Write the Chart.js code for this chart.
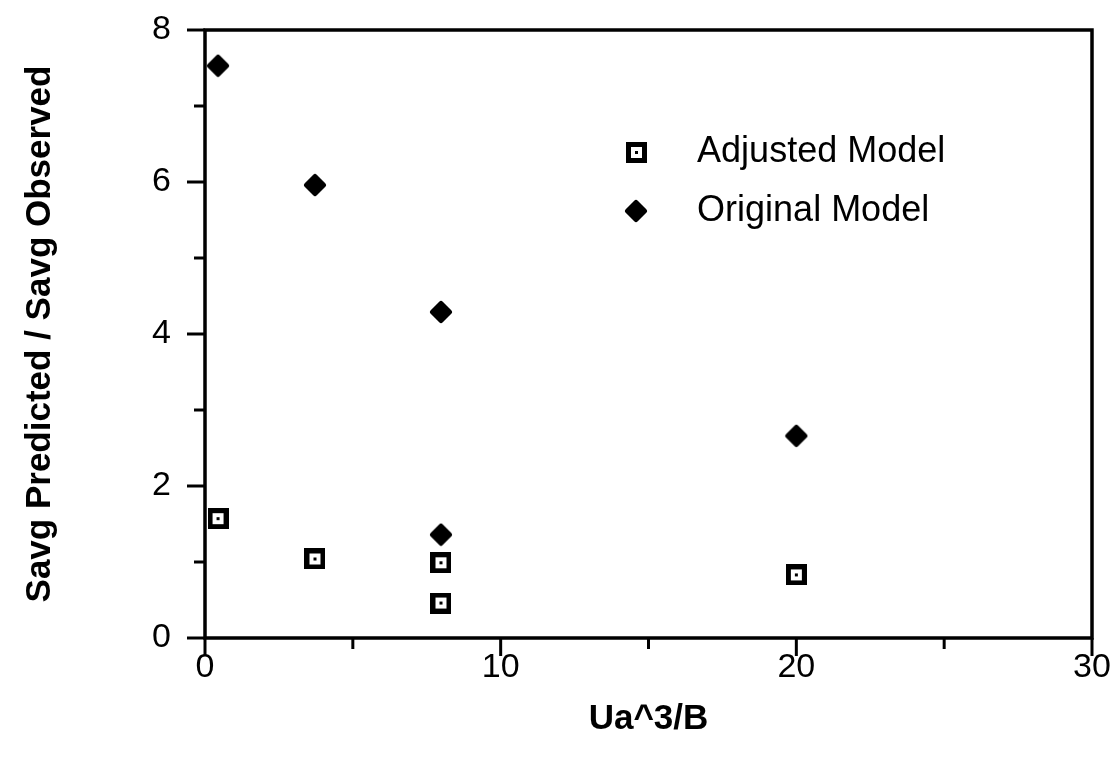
<!DOCTYPE html>
<html>
<head>
<meta charset="utf-8">
<script src="https://cdn.jsdelivr.net/npm/chart.js@4.4.1/dist/chart.umd.min.js"></script>
<style>
  html, body { margin: 0; padding: 0; background: #ffffff; }
  #wrap { width: 1117px; height: 764px; }
</style>
</head>
<body>
<div id="wrap"><canvas id="chart" width="1117" height="764"></canvas></div>
<script>
const adjustedX = [0.44, 3.72, 7.98, 7.98, 20.0];
const adjustedY = [1.57, 1.04, 0.99, 0.46, 0.83];
const originalX = [0.44, 3.72, 7.98, 7.98, 20.0];
const originalY = [7.53, 5.96, 4.29, 1.36, 2.66];
const xTicks = [0, 10, 20, 30];
const yTicks = [0, 2, 4, 6, 8];
const seriesNames = ['Adjusted Model', 'Original Model'];

const FONT = '"Liberation Sans", Arial, Helvetica, sans-serif';

function squareMarker() {
    const c = document.createElement('canvas');
    c.width = 21;
    c.height = 21;
    const ctx = c.getContext('2d');
    ctx.fillStyle = '#000';
    ctx.fillRect(0, 0, 21, 21);
    ctx.fillStyle = '#fff';
    ctx.fillRect(5, 5, 11, 11);
    ctx.fillStyle = '#000';
    ctx.fillRect(9, 9, 3, 3);
    return c;
}

function diamondMarker() {
    const c = document.createElement('canvas');
    c.width = 24;
    c.height = 24;
    const ctx = c.getContext('2d');
    ctx.fillStyle = '#000';
    ctx.strokeStyle = '#000';
    ctx.lineJoin = 'round';
    ctx.lineWidth = 5;
    ctx.beginPath();
    ctx.moveTo(12, 3.5);
    ctx.lineTo(20.5, 12);
    ctx.lineTo(12, 20.5);
    ctx.lineTo(3.5, 12);
    ctx.closePath();
    ctx.fill();
    ctx.stroke();
    return c;
}

const markers = [squareMarker(), diamondMarker()];

function toPoints(xs, ys) {
    return xs.map((x, i) => ({ x, y: ys[i] }));
}

// frame, major and minor tick marks drawn outward like the original plot
const framePlugin = {
    id: 'frame',
    afterDraw(chart) {
        const { ctx, chartArea: area, scales } = chart;
        ctx.save();
        ctx.strokeStyle = '#000';
        ctx.lineWidth = 3.5;
        ctx.lineCap = 'butt';
        ctx.strokeRect(area.left, area.top, area.right - area.left, area.bottom - area.top);

        ctx.lineWidth = 3;
        for (let v = 0; v <= 30; v += 5) {
            const px = scales.x.getPixelForValue(v);
            const len = v % 10 === 0 ? 18 : 11;
            ctx.beginPath();
            ctx.moveTo(px, area.bottom);
            ctx.lineTo(px, area.bottom + len);
            ctx.stroke();
        }
        for (let v = 0; v <= 8; v += 1) {
            const py = scales.y.getPixelForValue(v);
            const len = v % 2 === 0 ? 18 : 11;
            ctx.beginPath();
            ctx.moveTo(area.left, py);
            ctx.lineTo(area.left - len, py);
            ctx.stroke();
        }
        ctx.restore();
    },
};

// legend placed inside the plot area
const insideLegend = {
    id: 'insideLegend',
    afterDraw(chart, args, opts) {
        const { ctx, scales } = chart;
        ctx.save();
        ctx.font = `${opts.fontSize}px ${FONT}`;
        ctx.fillStyle = '#000';
        ctx.textBaseline = 'middle';
        ctx.textAlign = 'left';
        seriesNames.forEach((name, i) => {
            const mx = scales.x.getPixelForValue(opts.markerX);
            const my = scales.y.getPixelForValue(opts.rowsY[i]);
            const img = markers[i];
            ctx.drawImage(img, Math.round(mx - img.width / 2), Math.round(my - img.height / 2));
            ctx.fillText(name, mx + opts.textGap, my);
        });
        ctx.restore();
    },
};

function noLabelPadding(scale) {
    scale.paddingTop = 0;
    scale.paddingBottom = 0;
    scale.paddingLeft = 0;
    scale.paddingRight = 0;
}

new Chart(document.getElementById('chart'), {
    type: 'scatter',
    data: {
        datasets: [
            {
                label: seriesNames[0],
                data: toPoints(adjustedX, adjustedY),
                pointStyle: markers[0],
            },
            {
                label: seriesNames[1],
                data: toPoints(originalX, originalY),
                pointStyle: markers[1],
            },
        ],
    },
    options: {
        responsive: false,
        animation: false,
        layout: {
            autoPadding: false,
            padding: { top: 30, right: 25, bottom: 0, left: 0 },
        },
        plugins: {
            legend: { display: false },
            tooltip: { enabled: false },
            insideLegend: {
                fontSize: 36,
                markerX: 14.58,
                rowsY: [6.39, 5.62],
                textGap: 61,
            },
        },
        scales: {
            x: {
                type: 'linear',
                min: 0,
                max: 30,
                afterBuildTicks(scale) {
                    scale.ticks = xTicks.map((value) => ({ value }));
                },
                afterFit(scale) {
                    scale.height = 126;
                    noLabelPadding(scale);
                },
                border: { display: false },
                grid: { display: false },
                ticks: {
                    color: '#000',
                    padding: 1,
                    maxRotation: 0,
                    font: { family: FONT, size: 34 },
                },
                title: {
                    display: true,
                    text: 'Ua^3/B',
                    color: '#000',
                    padding: { top: 24, bottom: 24 },
                    font: { family: FONT, size: 35, weight: 'bold' },
                },
            },
            y: {
                type: 'linear',
                min: 0,
                max: 8,
                afterBuildTicks(scale) {
                    scale.ticks = yTicks.map((value) => ({ value }));
                },
                afterFit(scale) {
                    scale.width = 205;
                    noLabelPadding(scale);
                },
                border: { display: false },
                grid: { display: false },
                ticks: {
                    color: '#000',
                    padding: 26,
                    font: { family: FONT, size: 34 },
                },
                title: {
                    display: true,
                    text: 'Savg Predicted / Savg Observed',
                    color: '#000',
                    padding: { top: 19, bottom: 19 },
                    font: { family: FONT, size: 35, weight: 'bold' },
                },
            },
        },
    },
    plugins: [framePlugin, insideLegend],
});
</script>
</body>
</html>
